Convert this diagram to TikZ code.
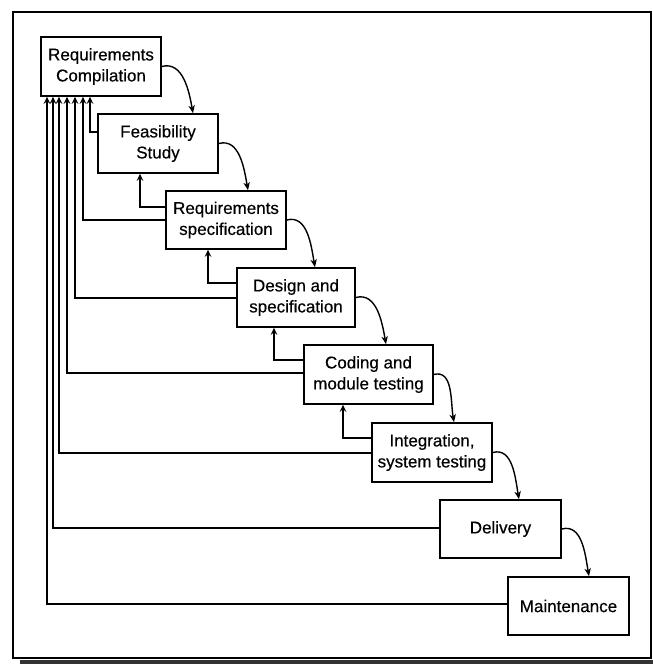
\documentclass[tikz,border=0pt]{standalone}
\usepackage{fontspec}
\setmainfont{Liberation Sans}
\newfontfamily\phasefont{Liberation Sans}[FakeBold=0.4]
\usetikzlibrary{arrows.meta,calc}

\tikzset{
  phase/.style={draw, line width=1.6pt, fill=white, inner sep=0pt, align=center,
    minimum height=59pt, font=\phasefont\fontsize{17}{21}\selectfont},
  flow/.style={line width=1.4pt, -{Stealth[length=8pt,width=6.5pt,inset=2.5pt]}},
  fb/.style={line width=1.3pt, -{Stealth[length=7pt,width=6.5pt,inset=2.5pt]}},
}

\begin{document}
\begin{tikzpicture}[x=1pt,y=-1pt]
\useasboundingbox (0,0) rectangle (653,664);

% outer frame and scanned lower edge
\draw[line width=2pt] (13,12) rectangle (651,658);
\fill[black!80] (20,660) rectangle (653,664);

% the phases
\node[phase, minimum width=120pt] (RC) at (101,66.5)   {Requirements\\Compilation};
\node[phase, minimum width=120pt] (FS) at (158,143.5)  {Feasibility\\Study};
\node[phase, minimum width=120pt, minimum height=58pt] (RS) at (226,220) {Requirements\\specification};
\node[phase, minimum width=118pt] (DS) at (296,297.5)  {Design and\\specification};
\node[phase, minimum width=129pt] (CM) at (368.5,374.5){Coding and\\module testing};
\node[phase, minimum width=120pt] (IS) at (432,452.5)  {Integration,\\system testing};
\node[phase, minimum width=121pt, minimum height=58pt] (DL) at (500.5,529) {Delivery};
\node[phase, minimum width=121pt, minimum height=58pt] (MT) at (568.5,606) {Maintenance};

% forward flow between phases
\draw[flow] (RC.east) to[out=15,in=100] (193,0 |- FS.north);
\draw[flow] (FS.east) to[out=15,in=100] (248,0 |- RS.north);
\draw[flow] (RS.east) to[out=15,in=100] (315,0 |- DS.north);
\draw[flow] (DS.east) to[out=15,in=100] (386,0 |- CM.north);
\draw[flow] (CM.east) to[out=15,in=100] (454,0 |- IS.north);
\draw[flow] (IS.east) to[out=15,in=100] (519,0 |- DL.north);
\draw[flow] (DL.east) to[out=15,in=100] (589,0 |- MT.north);

% feedback to the preceding phase
\draw[fb] (RS.west |- 0,207) -| (140,0 |- FS.south);
\draw[fb] (DS.west |- 0,283) -| (208,0 |- RS.south);
\draw[fb] (CM.west |- 0,360) -| (274,0 |- DS.south);
\draw[fb] (IS.west |- 0,438) -| (343,0 |- CM.south);

% feedback to requirements compilation
\draw[fb] (FS.west |- 0,132) -| (90,0 |- RC.south);
\draw[fb] (RS.west |- 0,220) -| (83,0 |- RC.south);
\draw[fb] (DS.west |- 0,298) -| (75,0 |- RC.south);
\draw[fb] (CM.west |- 0,373) -| (67,0 |- RC.south);
\draw[fb] (IS.west |- 0,453) -| (59,0 |- RC.south);
\draw[fb] (DL.west |- 0,528) -| (53,0 |- RC.south);
\draw[fb] (MT.west |- 0,604) -| (47,0 |- RC.south);
\end{tikzpicture}
\end{document}
